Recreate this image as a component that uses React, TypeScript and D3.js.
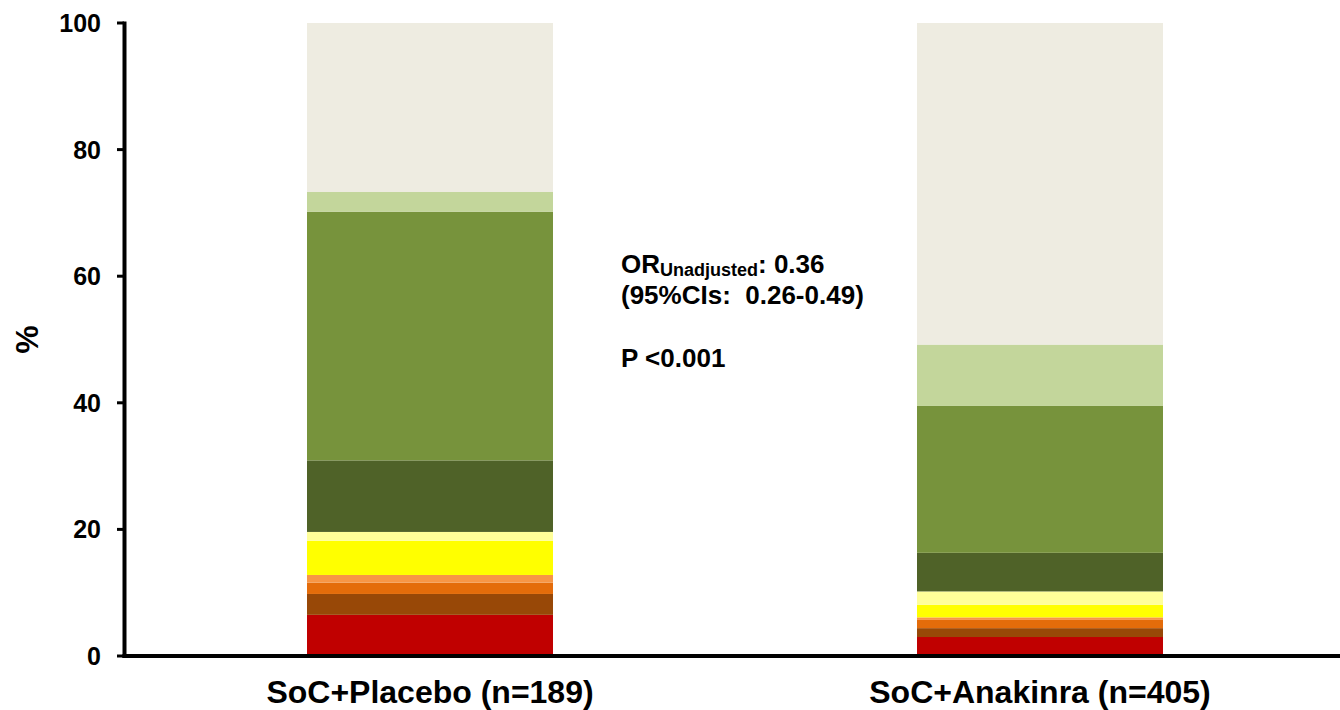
import React, { useEffect } from "react";
import * as d3 from "d3";

const categories = ["SoC+Placebo (n=189)", "SoC+Anakinra (n=405)"];
const segmentNames = ["s1", "s2", "s3", "s4", "s5", "s6", "s7", "s8", "s9", "s10"];
const placeboValues = [6.5, 3.3, 1.8, 1.2, 5.4, 1.4, 11.3, 39.3, 3.1, 26.7];
const anakinraValues = [3.0, 1.4, 1.3, 0.4, 2.0, 2.1, 6.1, 23.2, 9.7, 50.8];
const segmentColors = ["#C00000", "#984807", "#E46C0A", "#F79646", "#FFFF00", "#FFFF99", "#4F6228", "#77933C", "#C3D69B", "#EEECE1"];
const yTicks = [0, 20, 40, 60, 80, 100];

const W = 1340;
const H = 710;

export default function App() {
  useEffect(() => {
    document.body.style.margin = "0";
  }, []);

  const y = d3.scaleLinear().domain([0, 100]).range([656, 23]);
  const x = d3.scalePoint<string>().domain(categories).range([430, 1040]);
  const barW = 246;
  const font = "'Liberation Sans', Arial, sans-serif";

  const rows = categories.map((c, i) => {
    const vals = i === 0 ? placeboValues : anakinraValues;
    const obj: Record<string, number | string> = { cat: c };
    segmentNames.forEach((s, j) => (obj[s] = vals[j]));
    return obj;
  });
  const stack = d3.stack<any>().keys(segmentNames)(rows);

  return (
    <svg width={W} height={H} style={{ display: "block", background: "#fff" }}>
      {stack.map((layer, li) =>
        layer.map((d, ci) => (
          <rect
            key={`${li}-${ci}`}
            x={(x(categories[ci]) as number) - barW / 2}
            y={y(d[1])}
            width={barW}
            height={y(d[0]) - y(d[1])}
            fill={segmentColors[li]}
          />
        ))
      )}
      {/* y axis */}
      <line x1={124.5} x2={124.5} y1={y(100) - 1.5} y2={y(0) + 2} stroke="#000" strokeWidth={4} />
      {yTicks.map((t) => (
        <g key={t}>
          <line x1={117} x2={124} y1={y(t)} y2={y(t)} stroke="#000" strokeWidth={3} />
          <text x={101} y={y(t)} dy="0.36em" textAnchor="end" fontFamily={font} fontWeight="bold" fontSize={25} fill="#000">
            {t}
          </text>
        </g>
      ))}
      {/* x axis */}
      <line x1={122.5} x2={W} y1={y(0)} y2={y(0)} stroke="#000" strokeWidth={4} />
      {categories.map((c) => (
        <text key={c} x={x(c) as number} y={703} textAnchor="middle" fontFamily={font} fontWeight="bold" fontSize={32} fill="#000">
          {c}
        </text>
      ))}
      <text transform={`translate(38,${(y(0) + y(100)) / 2}) rotate(-90)`} textAnchor="middle" fontFamily={font} fontWeight="bold" fontSize={32} fill="#000">
        %
      </text>
      {/* annotation */}
      <text x={621} y={273} fontFamily={font} fontWeight="bold" fontSize={26} fill="#000">
        OR
        <tspan fontSize={18} dy={3}>Unadjusted</tspan>
        <tspan dy={-3}>: 0.36</tspan>
      </text>
      <text x={621} y={304} fontFamily={font} fontWeight="bold" fontSize={26} fill="#000">
        {"(95%CIs:\u00A0 0.26-0.49)"}
      </text>
      <text x={621} y={367} fontFamily={font} fontWeight="bold" fontSize={26} fill="#000">
        P &lt;0.001
      </text>
    </svg>
  );
}
